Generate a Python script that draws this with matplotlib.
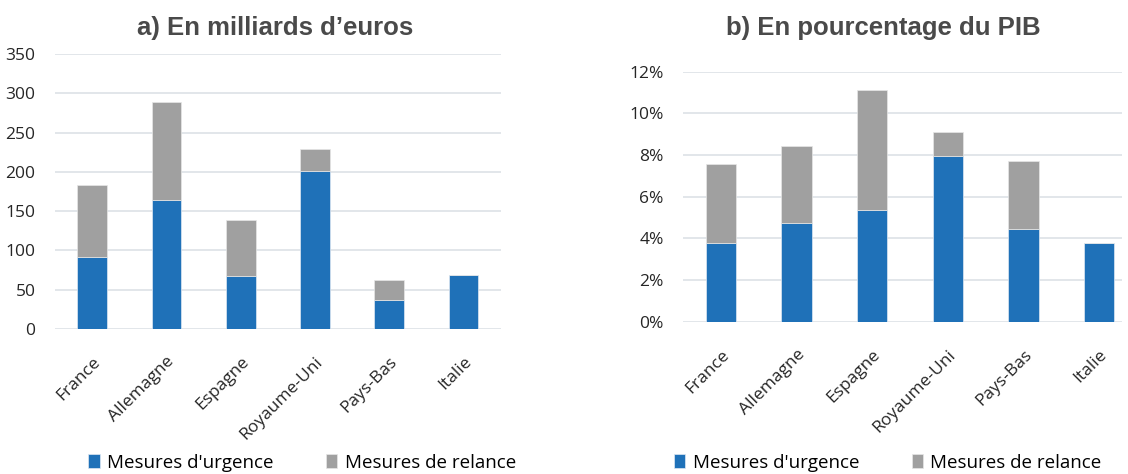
import matplotlib
matplotlib.use("Agg")
import matplotlib.pyplot as plt
from matplotlib.ticker import PercentFormatter

pays = ["France", "Allemagne", "Espagne", "Royaume-Uni", "Pays-Bas", "Italie"]

# a) milliards d'euros
urgence_mds = [91, 164, 67, 201, 36, 68]
relance_mds = [92, 125, 72, 28, 26, 0]

# b) en % du PIB
urgence_pib = [3.79, 4.75, 5.34, 7.97, 4.46, 3.79]
relance_pib = [3.78, 3.67, 5.80, 1.12, 3.25, 0.0]

BLUE = "#1F71B8"
GREY = "#A0A0A0"
GRID = "#DDE1E6"

plt.rcParams["font.family"] = ["Open Sans", "DejaVu Sans"]

fig = plt.figure(figsize=(11.28, 4.74), dpi=100)
ax1 = fig.add_axes([0.0488, 0.3065, 0.395, 0.579])
ax2 = fig.add_axes([0.6055, 0.3213, 0.389, 0.5274])

x = range(len(pays))


def draw(ax, urg, rel):
    ax.bar(x, urg, width=0.4, color=BLUE, edgecolor="#dfe8f3", linewidth=0.5, zorder=3,
           label="Mesures d'urgence")
    ax.bar(x, rel, width=0.4, bottom=urg, color=GREY, edgecolor="#e6e6e6", linewidth=0.5,
           zorder=3, label="Mesures de relance")
    ax.yaxis.grid(True, color=GRID, linewidth=1.2, zorder=0)
    ax.set_axisbelow(True)
    for s in ax.spines.values():
        s.set_visible(False)
    ax.tick_params(axis="both", length=0, labelsize=12.5, colors="#262626")
    ax.tick_params(axis="y", pad=14)
    ax.tick_params(axis="x", pad=18)
    ax.set_xticks(list(x))
    ax.set_xticklabels(pays, rotation=45, ha="right", rotation_mode="anchor")


draw(ax1, urgence_mds, relance_mds)
ax1.set_xlim(-0.5, 5.5)
ax1.set_ylim(0, 350)
ax1.set_yticks(range(0, 351, 50))

draw(ax2, urgence_pib, relance_pib)
ax2.set_xlim(-0.5, 5.3)
ax2.set_ylim(0, 12)
ax2.set_yticks(range(0, 13, 2))
ax2.yaxis.set_major_formatter(PercentFormatter(decimals=0))

fig.text(0.244, 0.94, "a) En milliards d\u2019euros", ha="center", va="center",
         fontsize=18.5, fontweight="bold", family=["Liberation Sans", "DejaVu Sans"], color="#4a4a4a")
fig.text(0.783, 0.94, "b) En pourcentage du PIB", ha="center", va="center",
         fontsize=18.5, fontweight="bold", family=["Liberation Sans", "DejaVu Sans"], color="#4a4a4a")

for ax, cx in [(ax1, 0.268), (ax2, 0.787)]:
    h, l = ax.get_legend_handles_labels()
    fig.legend(h, l, loc="center", bbox_to_anchor=(cx, 0.024), ncol=2, frameon=False,
               fontsize=13.5, handlelength=0.6, handleheight=0.8, handletextpad=0.4,
               columnspacing=2.8)

fig.savefig("out.png", dpi=100)
